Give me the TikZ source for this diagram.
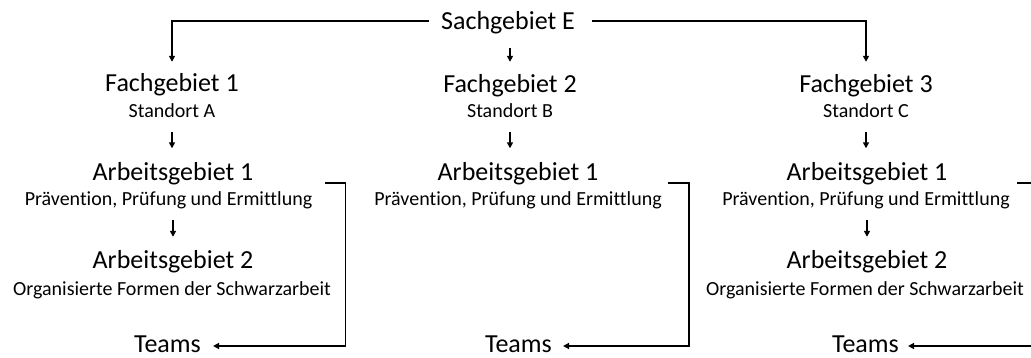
\documentclass[tikz,border=0pt]{standalone}
\usepackage{fontspec}
\setmainfont{Carlito}[Ligatures=NoCommon]
\usetikzlibrary{arrows.meta}
\tikzset{
  big/.style={font=\fontsize{26}{28}\selectfont, inner sep=0pt, anchor=base, text height=17pt, text depth=5.5pt},
  small/.style={font=\fontsize{20}{22}\selectfont, inner sep=0pt, anchor=base, text height=13pt, text depth=4.5pt},
  teams/.style={big, text depth=0pt},
  arr/.style={line width=1.6pt, -{Triangle[length=6pt,width=6pt]}},
  vchain/.style={arr, shorten <=9.5pt, shorten >=15.5pt},
}
\begin{document}
\begin{tikzpicture}[x=1pt,y=-1pt]
\useasboundingbox (0,0) rectangle (1031,358);
\clip (0,0) rectangle (1031,358);
% top
\node[big] (S) at (508,30) {Sachgebiet E};
% column 1
\node[big]   (F1) at (172,92)  {Fachgebiet 1};
\node[small] (St1) at (172,118) {Standort A};
\node[big]   (A11) at (173,181) {Arbeitsgebiet 1};
\node[small] (P1) at (168.5,206) {Prävention, Prüfung und Ermittlung};
\node[big]   (A12) at (173,269) {Arbeitsgebiet 2};
\node[small] (O1) at (172,295) {Organisierte Formen der Schwarzarbeit};
\node[teams] (T1) at (167.5,352) {Teams};
% column 2
\node[big]   (F2) at (510,93)  {Fachgebiet 2};
\node[small] (St2) at (510,118) {Standort B};
\node[big]   (A21) at (518,181) {Arbeitsgebiet 1};
\node[small] (P2) at (518,206) {Prävention, Prüfung und Ermittlung};
\node[teams] (T2) at (518.5,352) {Teams};
% column 3
\node[big]   (F3) at (866,93)  {Fachgebiet 3};
\node[small] (St3) at (866,118) {Standort C};
\node[big]   (A31) at (867,181) {Arbeitsgebiet 1};
\node[small] (P3) at (866,206) {Prävention, Prüfung und Ermittlung};
\node[big]   (A32) at (867,269) {Arbeitsgebiet 2};
\node[small] (O3) at (865,295) {Organisierte Formen der Schwarzarbeit};
\node[teams] (T3) at (865.5,352) {Teams};

% connectors from Sachgebiet E
\draw[arr] ([shift={(-12pt,9pt)}]S.base west) -| ([yshift=13pt]F1.north);
\draw[arr, shorten <=12.5pt, shorten >=14pt] (S.south -| F2.north) -- (F2.north);
\draw[arr] ([shift={(17pt,9pt)}]S.base east) -| ([yshift=14pt]F3.north);
% Standort -> Arbeitsgebiet 1
\draw[vchain] (St1.south) -- (St1.south |- A11.north);
\draw[vchain] (St2.south) -- (St2.south |- A21.north);
\draw[vchain] (St3.south) -- (St3.south |- A31.north);
% Arbeitsgebiet 1 -> Arbeitsgebiet 2
\draw[arr, shorten <=9.5pt, shorten >=15pt] (A11.south |- P1.south) -- (A12.north);
\draw[arr, shorten <=9.5pt, shorten >=15pt] (A31.south |- P3.south) -- (A32.north);
% brackets to Teams
\draw[arr] ([shift={(13pt,10pt)}]P1.north east) -- ++(20pt,0) |- ([shift={(12pt,6pt)}]T1.base east);
\draw[arr] ([shift={(6pt,10pt)}]P2.north east) -- ++(21pt,0) |- ([shift={(11pt,6pt)}]T2.base east);
\draw[arr] ([shift={(7pt,10pt)}]P3.north east) -- ++(19pt,0) |- ([shift={(9pt,6pt)}]T3.base east);
\end{tikzpicture}
\end{document}
